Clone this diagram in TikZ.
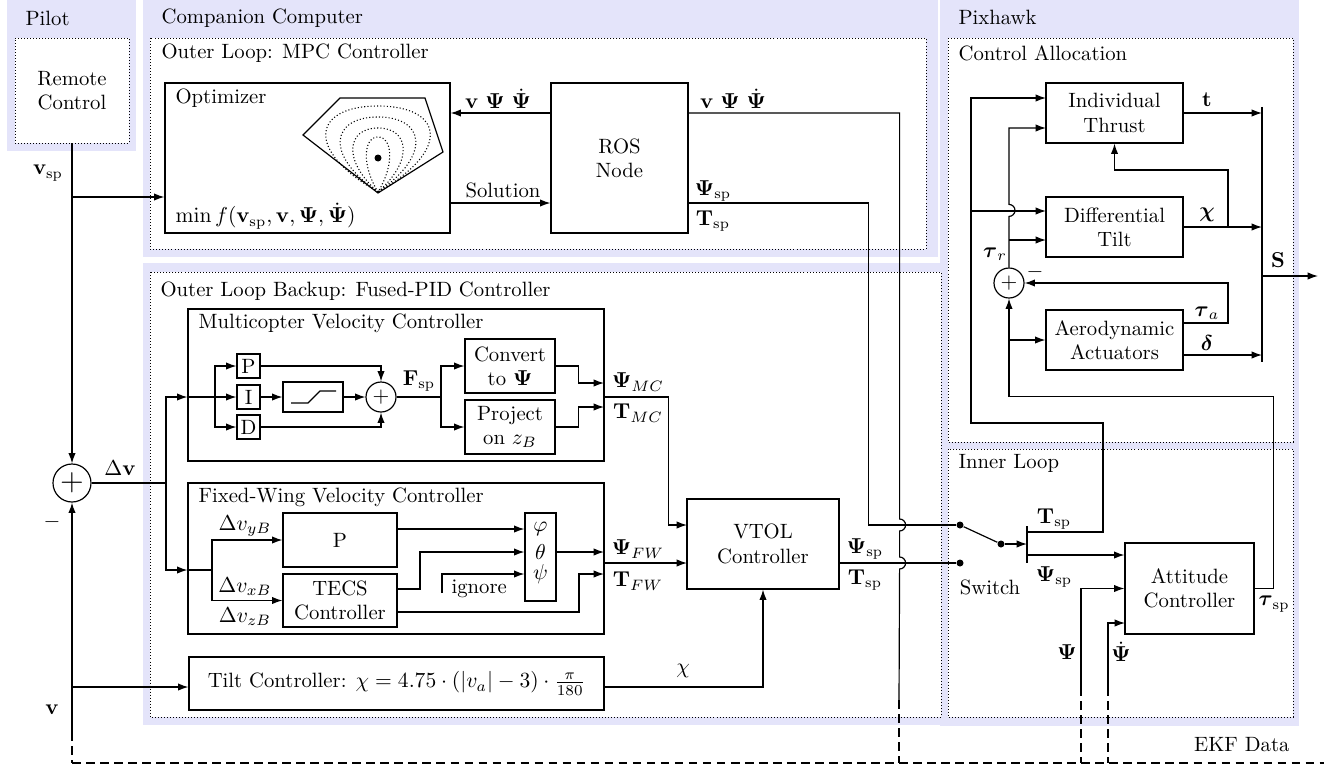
\documentclass[tikz,border=0pt]{standalone}
\usepackage{amsmath}
\usetikzlibrary{arrows.meta, positioning, calc}

\newcommand{\pxu}{0.0163cm}
\newcommand{\spt}{\text{sp}}
\definecolor{areafill}{RGB}{228,228,250}

\begin{document}
\begin{tikzpicture}[
      x=0.0163cm, y=-0.0163cm, line width=0.55pt,
      font=\fontsize{9.6}{11.3}\selectfont,
      block/.style 2 args={rectangle, draw, align=center, inner sep=1pt, minimum width=#1*\pxu, minimum height=#2*\pxu},
      sumnode/.style={circle, draw, inner sep=0pt, minimum size=#1*\pxu},
      dot/.style={circle, fill, inner sep=0pt, minimum size=7*\pxu},
      arrow/.style={-{Latex[length=4.8pt, width=3.4pt]}},
      area/.style={fill=areafill},
      group/.style={draw, densely dotted, fill=white, line width=0.4pt},
      title/.style={anchor=west, inner sep=0pt},
      lbl/.style={inner sep=0pt},
      ekf/.style={dash pattern=on 4pt off 2.5pt},
      contour/.style={densely dotted, line width=0.5pt}
      ]
      \useasboundingbox (0,0) rectangle (1324,765);

      % Areas
      \fill[area] (7,0) rectangle (136,151);
      \fill[area] (143,0) rectangle (938,257);
      \fill[area] (143,263) rectangle (948,725);
      \fill[area] (940,0) rectangle (1299,726);

      % Dotted groups
      \draw[group] (150,38) rectangle (926,249);
      \draw[group] (150,272) rectangle (941,717);
      \draw[group] (948,38) rectangle (1293,442);
      \draw[group] (948,449) rectangle (1293,717);

      % Titles
      \node[title] at (25,18) {Pilot};
      \node[title] at (161,18) {Companion Computer};
      \node[title] at (958,17) {Pixhawk};
      \node[title] at (161,53) {Outer Loop: MPC Controller};
      \node[title] at (160,291) {Outer Loop Backup: Fused-PID Controller};
      \node[title] at (958,53) {Control Allocation};
      \node[title] at (958,463) {Inner Loop};

      % Pilot
      \node[block={114}{105}, group] (remote) at (72,90.5) {Remote\\Control};
      \node[sumnode=38] (sumP) at (72,483) {\Large $+$};

      % Optimizer
      \node[block={285}{150}] (opt) at (307.5,158) {};
      \node[title] at (175,98) {Optimizer};
      \node[title] at (175,216) {$\min f(\mathbf{v}_{\spt}, \mathbf{v}, \boldsymbol{\Psi}, \dot{\boldsymbol{\Psi}})$};
      \draw (303,135) -- (340,98) -- (425,98) -- (443,152) -- (378,193) -- cycle;
      \draw[contour] (378,192) .. controls (302.6,149) and (314.2,106) .. (378,106) .. controls (441.8,106) and (453.4,149) .. (378,192);
      \draw[contour] (378,192) .. controls (323.4,154.5) and (331.8,117) .. (378,117) .. controls (424.2,117) and (432.6,154.5) .. (378,192);
      \draw[contour] (378,192) .. controls (341.6,160) and (347.2,128) .. (378,128) .. controls (408.8,128) and (414.4,160) .. (378,192);
      \draw[contour] (378,192) .. controls (361.1,164.5) and (363.7,137) .. (378,137) .. controls (392.3,137) and (394.9,164.5) .. (378,192);
      \node[dot] (optimum) at (378,158) {};

      % ROS node
      \node[block={137}{150}] (ros) at (619.5,158) {ROS\\Node};

      % Multicopter velocity controller
      \node[block={416}{152}] (mc) at (396,385) {};
      \node[title] at (198,323) {Multicopter Velocity Controller};
      \node[block={23}{24}] (P) at (248.5,366) {P};
      \node[block={23}{24}] (I) at (248.5,397) {I};
      \node[block={23}{24}] (D) at (248.5,427) {D};
      \node[block={60}{30}] (sat) at (313,397) {};
      \node[sumnode=30] (sumM) at (381,397) {$+$};
      \node[block={90}{54}] (conv) at (510,366) {Convert\\to $\boldsymbol{\Psi}$};
      \node[block={90}{54}] (proj) at (510,427) {Project\\on $z_B$};

      % Fixed-wing velocity controller
      \node[block={416}{151}] (fw) at (396,558.5) {};
      \node[title] at (198,497) {Fixed-Wing Velocity Controller};
      \node[block={114}{54}] (pfw) at (340,540) {P};
      \node[block={114}{53}] (tecs) at (340,600.5) {TECS\\Controller};
      \node[block={31}{88}] (ang) at (540.5,557) {};
      \node[lbl] (phi) at (540.5,529) {$\varphi$};
      \node[lbl] (theta) at (540.5,552) {$\theta$};
      \node[lbl] (psi) at (540.5,574) {$\psi$};

      % Tilt and VTOL
      \node[block={415}{53}] (tilt) at (396.5,683.5) {Tilt Controller: $\chi = 4.75\cdot(|v_a|-3)\cdot\frac{\pi}{180}$};
      \node[block={152}{90}] (vtol) at (763,544) {VTOL\\Controller};

      % Switch and attitude
      \node[dot] (sw1) at (960,525) {};
      \node[dot] (sw2) at (960,563) {};
      \node[dot] (swc) at (1001,544) {};
      \node[lbl] at (990,587) {Switch};
      \node[block={129}{91}] (att) at (1189.5,588.5) {Attitude\\Controller};

      % Allocation
      \node[block={137}{60}] (it) at (1114.5,113) {Individual\\Thrust};
      \node[block={137}{60}] (dt) at (1114.5,227) {Differential\\Tilt};
      \node[block={137}{60}] (aa) at (1114.5,340) {Aerodynamic\\Actuators};
      \node[sumnode=30] (sumC) at (1009,283) {$+$};

      % Coordinates
      \coordinate (lvlA) at (0,113);
      \coordinate (lvlB) at (0,203);
      \coordinate (vspJ) at (72,197);
      \coordinate (dvJ) at (166,483);
      \coordinate (vJ) at (72,687);
      \coordinate (vTop) at (72,732);
      \coordinate (ekfL) at (72,763);
      \coordinate (ekfR) at (1324,763);
      \coordinate (ekfRos) at (899,700);
      \coordinate (mcJ) at (215,397);
      \coordinate (fJ) at (441,397);
      \coordinate (mcPsi) at (604,383);
      \coordinate (mcT) at (604,407);
      \coordinate (fwJ) at (212,570);
      \coordinate (tecsA) at (397,589);
      \coordinate (tecsB) at (397,612);
      \coordinate (ignore) at (442,593);
      \coordinate (fwPsi) at (604,552);
      \coordinate (fwT) at (604,574);
      \coordinate (vtolA) at (687,525);
      \coordinate (vtolB) at (687,563);
      \coordinate (swTop) at (1027,526);
      \coordinate (swBot) at (1027,563);
      \coordinate (swT) at (1027,532);
      \coordinate (swPsi) at (1027,555);
      \coordinate (ekfPsi) at (1081,687);
      \coordinate (ekfDPsi) at (1108,687);
      \coordinate (attC) at (1125,623);
      \coordinate (itA) at (1046,98);
      \coordinate (itB) at (1046,128);
      \coordinate (dtA) at (1046,211);
      \coordinate (dtB) at (1046,240);
      \coordinate (caL) at (971,423);
      \coordinate (aaA) at (1183,323);
      \coordinate (aaB) at (1183,355);
      \coordinate (chiJ) at (1228,227);
      \coordinate (barTop) at (1262,107);
      \coordinate (barBot) at (1262,362);
      \coordinate (sOut) at (1318,276);

      % Pilot arrows
      \draw[arrow] (remote.south) -- (sumP.north);
      \draw[arrow] (vspJ) -- (opt.west |- vspJ);
      \draw (sumP.east) -- (dvJ);
      \draw[arrow] (vTop) -- (sumP.south);
      \draw[arrow] (vJ) -- (tilt.west |- vJ);
      \node[lbl] at (48,173) {$\mathbf{v}_{\spt}$};
      \node[lbl] at (120,468) {$\Delta\mathbf{v}$};
      \node[lbl] at (52,522) {$-$};
      \node[lbl] at (52,710) {$\mathbf{v}$};

      % MPC arrows
      \draw[arrow] (ros.west |- lvlA) -- (opt.east |- lvlA);
      \draw[arrow] (opt.east |- lvlB) -- (ros.west |- lvlB);
      \draw (ros.east |- lvlB) -- ++(180,0) |- (sw1);
      \draw (ros.east |- lvlA) -- ++(211,0) -- ++(0,406) arc[start angle=90, end angle=-90, radius=6*\pxu]
            -- ++(0,26) arc[start angle=90, end angle=-90, radius=6*\pxu] -- (ekfRos);
      \node[lbl] at (498,99) {$\mathbf{v}\ \boldsymbol{\Psi}\ \dot{\boldsymbol{\Psi}}$};
      \node[lbl] at (733,99) {$\mathbf{v}\ \boldsymbol{\Psi}\ \dot{\boldsymbol{\Psi}}$};
      \node[lbl] at (503,190) {Solution};
      \node[lbl] at (713,191) {$\boldsymbol{\Psi}_{\spt}$};
      \node[lbl] at (713,221) {$\mathbf{T}_{\spt}$};

      % Multicopter arrows
      \draw[arrow] (dvJ) |- (mc.west |- I);
      \draw[arrow] (mc.west |- I) -- (I.west);
      \draw[arrow] (mcJ) |- (P.west);
      \draw[arrow] (mcJ) |- (D.west);
      \draw[arrow] (I) -- (sat);
      \draw ([shift={(-22,6)}]sat.center) -- ++(17,0) -- ++(12,-12) -- ++(16,0);
      \draw[arrow] (sat) -- (sumM);
      \draw[arrow] (P.east) -| (sumM.north);
      \draw[arrow] (D.east) -| (sumM.south);
      \draw (sumM.east) -- (fJ);
      \draw[arrow] (fJ) |- (conv.west);
      \draw[arrow] (fJ) |- (proj.west);
      \node[lbl] at (419,381) {$\mathbf{F}_{\spt}$};
      \draw[arrow] (conv.east) -- ++(23,0) |- (mcPsi);
      \draw[arrow] (proj.east) -- ++(23,0) |- (mcT);
      \draw[arrow] (mc.east |- I) -- ++(64,0) |- (vtolA);
      \node[lbl] at (638,382) {$\boldsymbol{\Psi}_{MC}$};
      \node[lbl] at (638,413) {$\mathbf{T}_{MC}$};

      % Fixed-wing arrows
      \draw[arrow] (dvJ) |- (fw.west |- fwJ);
      \draw (fw.west |- fwJ) -- (fwJ);
      \draw[arrow] (fwJ) |- (pfw.west);
      \draw[arrow] (fwJ) |- (tecs.west);
      \draw[arrow] (pfw.east |- phi) -- (ang.west |- phi);
      \draw[arrow] (tecsA) -- ++(23,0) |- (ang.west |- theta);
      \draw[arrow] (ignore) |- (ang.west |- psi);
      \node[lbl, anchor=west] at (451,589) {ignore};
      \draw[arrow] (ang.east |- theta) -- (fwPsi);
      \draw[arrow] (tecsB) -- ++(182,0) |- (fwT);
      \draw[arrow] (fw.east |- vtolB) -- (vtolB);
      \node[lbl] at (245,526) {$\Delta v_{yB}$};
      \node[lbl] at (245,587) {$\Delta v_{xB}$};
      \node[lbl] at (245,617) {$\Delta v_{zB}$};
      \node[lbl] at (638,549) {$\boldsymbol{\Psi}_{FW}$};
      \node[lbl] at (638,581) {$\mathbf{T}_{FW}$};

      % VTOL arrows
      \draw[arrow] (tilt.east |- vJ) -| (vtol.south);
      \node[lbl] at (683,671) {$\chi$};
      \draw (vtol.east |- vtolB) -- (sw2);
      \node[lbl] at (865,549) {$\boldsymbol{\Psi}_{\spt}$};
      \node[lbl] at (865,580) {$\mathbf{T}_{\spt}$};

      % Inner loop arrows
      \draw (sw1) -- (swc);
      \draw[arrow] (swc) -- (swTop |- swc);
      \draw (swTop) -- (swBot);
      \draw[arrow] (swPsi) -- (att.west |- swPsi);
      \node[lbl] at (1054,519) {$\mathbf{T}_{\spt}$};
      \node[lbl] at (1054,577) {$\boldsymbol{\Psi}_{\spt}$};
      \draw[arrow] (ekfPsi) |- (att.west);
      \draw[arrow] (ekfDPsi) |- (attC);
      \node[lbl] at (1067,652) {$\boldsymbol{\Psi}$};
      \node[lbl] at (1121,652) {$\dot{\boldsymbol{\Psi}}$};
      \node[lbl] at (1274,604) {$\boldsymbol{\tau}_{\spt}$};

      % Allocation arrows
      \draw[arrow] (swT) -- ++(76,0) |- (caL) |- (itA);
      \draw[arrow] (caL |- dtA) -- (dtA);
      \draw[arrow] (sumC.north) -- ++(0,-51) arc[start angle=-90, end angle=90, radius=6*\pxu] |- (itB);
      \draw[arrow] (sumC.north |- dtB) -- (dtB);
      \draw[arrow] (att.east) -- ++(19,0) -- ++(0,-192) -| (sumC.south);
      \draw[arrow] (sumC.south |- aa.west) -- (aa.west);
      \draw[arrow] (aaA) -- ++(45,0) |- (sumC.east);
      \draw[arrow] (aaB) -- (barTop |- aaB);
      \draw[arrow] (it.east) -- (barTop |- it.east);
      \draw[arrow] (dt.east) -- (barTop |- dt.east);
      \draw[arrow] (chiJ) -- ++(0,-57) -| (it.south);
      \draw (barTop) -- (barBot);
      \draw[arrow] (barTop |- sOut) -- (sOut);
      \node[lbl] at (1207,100) {$\mathbf{t}$};
      \node[lbl] at (1207,215) {$\boldsymbol{\chi}$};
      \node[lbl] at (1207,313) {$\boldsymbol{\tau}_a$};
      \node[lbl] at (1207,343) {$\boldsymbol{\delta}$};
      \node[lbl] at (1278,260) {$\mathbf{S}$};
      \node[lbl] at (995,254) {$\boldsymbol{\tau}_r$};
      \node[lbl] at (1035,272) {$-$};

      % EKF data
      \draw[ekf] (ekfL) -- (ekfR);
      \draw[ekf] (vTop) -- (ekfL);
      \draw[ekf] (ekfRos) -- (ekfRos |- ekfL);
      \draw[ekf] (ekfPsi) -- (ekfPsi |- ekfL);
      \draw[ekf] (ekfDPsi) -- (ekfDPsi |- ekfL);
      \node[lbl, anchor=east] at (1290,745) {EKF Data};

   \end{tikzpicture}
\end{document}
